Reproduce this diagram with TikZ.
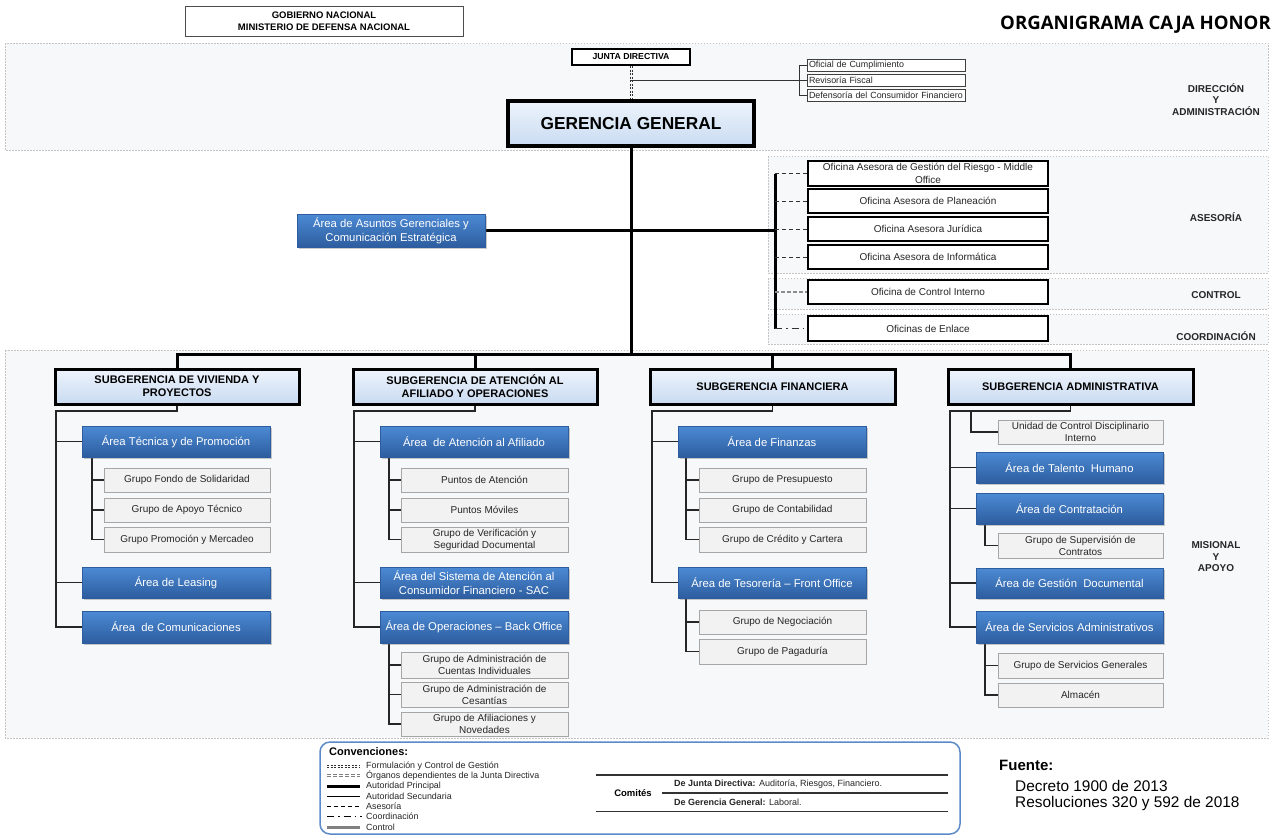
\documentclass[tikz,border=0pt]{standalone}
\usepackage{fontspec}
\setmainfont{Liberation Sans}
\newfontfamily\ttlfont{Open Sans}
\usetikzlibrary{shadows,calc}
\definecolor{bandbg}{HTML}{F7F8FA}
\definecolor{bandln}{HTML}{C4C4C4}
\definecolor{atop}{HTML}{4C8AD4}
\definecolor{abot}{HTML}{2D5D9F}
\definecolor{sgtop}{HTML}{EEF4FC}
\definecolor{sgbot}{HTML}{C9DBF2}
\definecolor{grayfill}{HTML}{F2F2F2}
\definecolor{grayln}{HTML}{A6A6A6}
\definecolor{legblue}{HTML}{5B8BC7}
\definecolor{ctrlgray}{HTML}{8C8C8C}
\pgfdeclarelayer{bg}\pgfsetlayers{bg,main}
\newcommand\mybox[7]{%
 \pgfmathsetmacro\mybw{#5-#3}\pgfmathsetmacro\mybh{#6-#4}%
 \pgfmathsetmacro\mycx{(#3+#5)/2}\pgfmathsetmacro\mycy{(#4+#6)/2}%
 \node[#1, minimum width=\mybw pt, minimum height=\mybh pt] (#2) at (\mycx,\mycy) {#7};}
\newcommand\myboxL[7]{%
 \pgfmathsetmacro\mybh{#6-#4}\pgfmathsetmacro\mytw{#5-#3-4}%
 \pgfmathsetmacro\mycx{(#3+#5)/2}\pgfmathsetmacro\mycy{(#4+#6)/2}%
 \node[#1, text width=\mytw pt, align=left, inner xsep=2pt, inner ysep=0pt, minimum height=\mybh pt] (#2) at (\mycx,\mycy) {#7};}
\tikzset{
 band/.style={fill=bandbg, draw=bandln, line width=0.6pt, dash pattern=on 1.5pt off 1.5pt},
 gobbox/.style={draw=black!70, line width=0.8pt, fill=white, inner sep=1pt, align=center, font=\fontsize{9.5}{12}\selectfont\bfseries},
 jdbox/.style={draw=black, line width=2pt, fill=white, inner sep=1pt, font=\fontsize{8.7}{10}\selectfont\bfseries},
 ggbox/.style={draw=black, line width=4pt, top color=sgtop, bottom color=sgbot, inner sep=1pt, font=\fontsize{17.3}{20}\selectfont\bfseries},
 rbox/.style={draw=black!75, line width=0.8pt, fill=white, font=\fontsize{8.9}{10}\selectfont, text=black!85},
 sgbox/.style={draw=black, line width=3pt, top color=sgtop, bottom color=sgbot, inner sep=1pt, align=center, font=\fontsize{11}{13}\selectfont\bfseries},
 abox/.style={draw=abot, line width=0.4pt, top color=atop, bottom color=abot, text=white, inner sep=1pt, align=center, font=\fontsize{11.3}{14}\selectfont, drop shadow={shadow xshift=1.5pt, shadow yshift=-1.5pt, opacity=0.35, fill=black!60}},
 grbox/.style={draw=grayln, line width=0.8pt, fill=grayfill, inner sep=1pt, align=center, text=black!85, font=\fontsize{10}{12}\selectfont},
 obox/.style={draw=black, line width=1.2pt, fill=white, inner sep=1pt, align=center, text=black!85, font=\fontsize{10}{12.5}\selectfont},
 lbl/.style={inner sep=0pt, align=center, text=black!85, font=\fontsize{10}{11.5}\selectfont\bfseries},
 legtxt/.style={anchor=west, inner sep=0pt, text=black!85, font=\fontsize{8.9}{10}\selectfont},
 mainl/.style={line width=3pt, draw=black},
 secl/.style={line width=1.5pt, draw=black!85},
 thinl/.style={line width=0.9pt, draw=black!80},
 jdd/.style={line width=0.8pt, draw=black!80, dash pattern=on 2pt off 1.5pt},
 asel/.style={line width=1pt, draw=black!80, dash pattern=on 4pt off 3pt},
 ctrll/.style={line width=2.5pt, draw=ctrlgray, dash pattern=on 4pt off 2pt},
 coorl/.style={line width=1pt, draw=black!80, dash pattern=on 7pt off 4pt on 1.5pt off 4pt},
}
\begin{document}
\begin{tikzpicture}[x=1pt,y=-1pt]
\useasboundingbox (0,0) rectangle (1273,836);
\begin{pgfonlayer}{bg}
\draw[band] (5,43) rectangle (1268,150);
\draw[band] (768,156) rectangle (1268,273);
\draw[band] (768,278) rectangle (1268,309);
\draw[band] (768,314) rectangle (1268,344);
\draw[band] (5,350) rectangle (1268,738);
\end{pgfonlayer}

% header
\mybox{gobbox}{gob}{185}{6}{463}{36}{GOBIERNO NACIONAL\\MINISTERIO DE DEFENSA NACIONAL}
\node[anchor=east, inner sep=0pt, font=\ttlfont\bfseries\fontsize{18.6}{22}\selectfont] (title) at (1271,25) {ORGANIGRAMA CAJA HONOR};

% direccion
\mybox{jdbox}{jd}{572}{49}{690}{65}{JUNTA DIRECTIVA}
\mybox{ggbox}{gg}{508}{101}{754}{146}{GERENCIA GENERAL}
\myboxL{rbox}{of}{807}{59}{965}{71}{Oficial de Cumplimiento}
\myboxL{rbox}{rf}{807}{74}{965}{86}{Revisoría Fiscal}
\myboxL{rbox}{dcf}{807}{89}{965}{101}{Defensoría del Consumidor Financiero}

% asesoria
\mybox{abox}{aag}{297}{214}{485}{247}{Área de Asuntos Gerenciales y\\Comunicación Estratégica}
\mybox{obox}{og}{808}{161}{1048}{186}{Oficina Asesora de Gestión del Riesgo - Middle\\Office}
\mybox{obox}{op}{808}{189}{1048}{213}{Oficina Asesora de Planeación}
\mybox{obox}{oj}{808}{217}{1048}{241}{Oficina Asesora Jurídica}
\mybox{obox}{oi}{808}{245}{1048}{269}{Oficina Asesora de Informática}
\mybox{obox}{oci}{808}{280}{1048}{304}{Oficina de Control Interno}
\mybox{obox}{oe}{808}{316}{1048}{341}{Oficinas de Enlace}

% labels
\node[lbl] (ldir) at (1216,99.5) {DIRECCIÓN\\Y\\ADMINISTRACIÓN};
\node[lbl] (lase) at (1216,217) {ASESORÍA};
\node[lbl] (lctl) at (1216,295) {CONTROL};
\node[lbl] (lcoo) at (1216,336) {COORDINACIÓN};
\node[lbl] (lmis) at (1216,557) {MISIONAL\\Y\\APOYO};

% subgerencias
\mybox{sgbox}{sv}{55}{369}{299}{404}{SUBGERENCIA DE VIVIENDA Y\\PROYECTOS}
\mybox{sgbox}{sa}{353}{369}{597}{404}{SUBGERENCIA DE ATENCIÓN AL\\AFILIADO Y OPERACIONES}
\mybox{sgbox}{sf}{650}{369}{895}{404}{SUBGERENCIA FINANCIERA}
\mybox{sgbox}{sad}{948}{369}{1193}{404}{SUBGERENCIA ADMINISTRATIVA}

% col 1
\mybox{abox}{at}{82}{426}{270}{457}{Área Técnica y de Promoción}
\mybox{grbox}{g11}{104}{468}{270}{492}{Grupo Fondo de Solidaridad}
\mybox{grbox}{g12}{104}{498}{270}{522}{Grupo de Apoyo Técnico}
\mybox{grbox}{g13}{104}{527}{270}{552}{Grupo Promoción y Mercadeo}
\mybox{abox}{al}{82}{567}{270}{598}{Área de Leasing}
\mybox{abox}{ac}{82}{611}{270}{643}{Área~ de Comunicaciones}

% col 2
\mybox{abox}{aa}{380}{426}{568}{457}{Área~ de Atención al Afiliado}
\mybox{grbox}{p1}{401}{468}{568}{492}{Puntos de Atención}
\mybox{grbox}{p2}{401}{498}{568}{522}{Puntos Móviles}
\mybox{grbox}{p3}{401}{527}{568}{552}{Grupo de Verificación y\\Seguridad Documental}
\mybox{abox}{sac}{380}{567}{568}{598}{Área del Sistema de Atención al\\Consumidor Financiero - SAC}
\mybox{abox}{ao}{380}{611}{568}{643}{Área de Operaciones – Back Office}
\mybox{grbox}{o1}{401}{652}{568}{678}{Grupo de Administración de\\Cuentas Individuales}
\mybox{grbox}{o2}{401}{682}{568}{707}{Grupo de Administración de\\Cesantías}
\mybox{grbox}{o3}{401}{712}{568}{736}{Grupo de Afiliaciones y\\Novedades}

% col 3
\mybox{abox}{af}{678}{426}{866}{457}{Área de Finanzas}
\mybox{grbox}{f1}{699}{468}{866}{492}{Grupo de Presupuesto}
\mybox{grbox}{f2}{699}{498}{866}{522}{Grupo de Contabilidad}
\mybox{grbox}{f3}{699}{527}{866}{552}{Grupo de Crédito y Cartera}
\mybox{abox}{atf}{678}{567}{866}{598}{Área de Tesorería – Front Office}
\mybox{grbox}{t1}{699}{610}{866}{634}{Grupo de Negociación}
\mybox{grbox}{t2}{699}{639}{866}{664}{Grupo de Pagaduría}

% col 4
\mybox{grbox}{ucd}{998}{420}{1163}{444}{Unidad de Control Disciplinario\\Interno}
\mybox{abox}{ath}{976}{452}{1163}{483}{Área de Talento~ Humano}
\mybox{abox}{acn}{976}{493}{1163}{524}{Área de Contratación}
\mybox{grbox}{gsc}{998}{533}{1163}{558}{Grupo de Supervisión de\\Contratos}
\mybox{abox}{agd}{976}{568}{1163}{598}{Área de Gestión~ Documental}
\mybox{abox}{asa}{976}{611}{1163}{643}{Área de Servicios Administrativos}
\mybox{grbox}{gsg}{998}{653}{1163}{678}{Grupo de Servicios Generales}
\mybox{grbox}{alm}{998}{683}{1163}{707}{Almacén}

% coordinates
\coordinate (brx) at (799,0);
\coordinate (asb) at (775,0);
\coordinate (bus) at (631,354);
\coordinate (c1) at (56,411);
\coordinate (c2) at (354,411);
\coordinate (c3) at (652,411);
\coordinate (c4) at (950,411);
\coordinate (c4u) at (971,411);
\coordinate (s1) at (92,0);
\coordinate (s2) at (389,0);
\coordinate (s3) at (686,0);
\coordinate (s4) at (985,0);

\begin{pgfonlayer}{bg}
% direccion
\draw[jdd] ([xshift=-1.1pt]jd.south) -- ([xshift=-1.1pt]gg.north);
\draw[jdd] ([xshift=1.1pt]jd.south) -- ([xshift=1.1pt]gg.north);
\draw[thinl] (jd.south |- rf.west) -- (rf.west);
\draw[thinl] (of.west) -- (of.west -| brx) -- (dcf.west -| brx) -- (dcf.west);
% asesoria
\draw[mainl] (gg.south) -- (bus);
\draw[mainl] (aag.east) -- (aag.east -| asb);
\draw[mainl] (asb |- og.west) -- (asb |- oe.west);
\draw[asel] (asb |- og.west) -- (og.west);
\draw[asel] (asb |- op.west) -- (op.west);
\draw[asel] (asb |- oj.west) -- (oj.west);
\draw[asel] (asb |- oi.west) -- (oi.west);
\draw[ctrll] (asb |- oci.west) -- (oci.west);
\draw[coorl] (asb |- oe.west) -- (oe.west);
% bus
\draw[mainl] (sv.north) -- (sv.north |- bus) -- (sad.north |- bus) -- (sad.north);
\draw[mainl] (sa.north) -- (sa.north |- bus);
\draw[mainl] (sf.north) -- (sf.north |- bus);
% col 1
\draw[secl] (sv.south) |- (c1) |- (ac.west);
\draw[secl] (c1 |- at.west) -- (at.west);
\draw[secl] (c1 |- al.west) -- (al.west);
\draw[secl] (at.south -| s1) |- (g13.west);
\draw[secl] (s1 |- g11.west) -- (g11.west);
\draw[secl] (s1 |- g12.west) -- (g12.west);
% col 2
\draw[secl] (sa.south) |- (c2) |- (ao.west);
\draw[secl] (c2 |- aa.west) -- (aa.west);
\draw[secl] (c2 |- sac.west) -- (sac.west);
\draw[secl] (aa.south -| s2) |- (p3.west);
\draw[secl] (s2 |- p1.west) -- (p1.west);
\draw[secl] (s2 |- p2.west) -- (p2.west);
\draw[secl] (ao.south -| s2) |- (o3.west);
\draw[secl] (s2 |- o1.west) -- (o1.west);
\draw[secl] (s2 |- o2.west) -- (o2.west);
% col 3
\draw[secl] (sf.south) |- (c3) |- (atf.west);
\draw[secl] (c3 |- af.west) -- (af.west);
\draw[secl] (af.south -| s3) |- (f3.west);
\draw[secl] (s3 |- f1.west) -- (f1.west);
\draw[secl] (s3 |- f2.west) -- (f2.west);
\draw[secl] (atf.south -| s3) |- (t2.west);
\draw[secl] (s3 |- t1.west) -- (t1.west);
% col 4
\draw[secl] (sad.south) |- (c4) |- (asa.west);
\draw[secl] (c4u) |- (ucd.west);
\draw[secl] (c4 |- ath.west) -- (ath.west);
\draw[secl] (c4 |- acn.west) -- (acn.west);
\draw[secl] (c4 |- agd.west) -- (agd.west);
\draw[secl] (acn.south -| s4) |- (gsc.west);
\draw[secl] (asa.south -| s4) |- (alm.west);
\draw[secl] (s4 |- gsg.west) -- (gsg.west);
\end{pgfonlayer}

% legend
\draw[legblue, line width=1.5pt, rounded corners=10pt, fill=white] (320,742) rectangle (960,834);
\node[anchor=west, inner sep=0pt, font=\fontsize{11}{13}\selectfont\bfseries] (conv) at (329,752) {Convenciones:};
\draw[jdd, line width=0.7pt] (327,765) -- (360,765);
\draw[jdd, line width=0.7pt] (327,767.2) -- (360,767.2);
\draw[line width=0.8pt, draw=gray, dash pattern=on 4pt off 2pt] (327,774.4) -- (360,774.4);
\draw[line width=0.8pt, draw=gray, dash pattern=on 4pt off 2pt] (327,776.6) -- (360,776.6);
\draw[line width=3pt] (327,786) -- (360,786);
\draw[line width=1pt] (327,796) -- (360,796);
\draw[line width=1pt, dash pattern=on 4pt off 3pt] (327,806) -- (360,806);
\draw[line width=1pt, dash pattern=on 7pt off 4pt on 1.5pt off 4pt] (327,816.5) -- (362,816.5);
\draw[line width=3pt, draw=gray] (327,827) -- (360,827);
\node[legtxt] (l1) at (366,766) {Formulación y Control de Gestión};
\node[legtxt] (l2) at (366,775.5) {Órganos dependientes de la Junta Directiva};
\node[legtxt] (l3) at (366,786) {Autoridad Principal};
\node[legtxt] (l4) at (366,796) {Autoridad Secundaria};
\node[legtxt] (l5) at (366,806) {Asesoría};
\node[legtxt] (l6) at (366,816.5) {Coordinación};
\node[legtxt] (l7) at (366,827) {Control};
\draw[line width=1.6pt, draw=black!80] (596,775) -- (948,775);
\draw[line width=1.6pt, draw=black!80] (662,793) -- (948,793);
\draw[line width=1pt, draw=black!80] (596,811) -- (948,811);
\node[inner sep=0pt, font=\fontsize{9.5}{11}\selectfont\bfseries] (com) at (633,793) {Comités};
\node[legtxt, font=\fontsize{9}{10}\selectfont] (cj) at (674,784.5) {\textbf{De Junta Directiva:} Auditoría, Riesgos, Financiero.};
\node[legtxt, font=\fontsize{9}{10}\selectfont] (cg) at (674,802) {\textbf{De Gerencia General:} Laboral.};

% fuente
\node[anchor=west, inner sep=0pt, font=\fontsize{15}{18}\selectfont\bfseries] (fte) at (999,765) {Fuente:};
\node[anchor=west, inner sep=0pt, font=\fontsize{15.4}{18}\selectfont] (dec) at (1015,786) {Decreto 1900 de 2013};
\node[anchor=west, inner sep=0pt, font=\fontsize{15.4}{18}\selectfont] (res) at (1015,804) {Resoluciones 320 y 592 de 2018};
\end{tikzpicture}
\end{document}
